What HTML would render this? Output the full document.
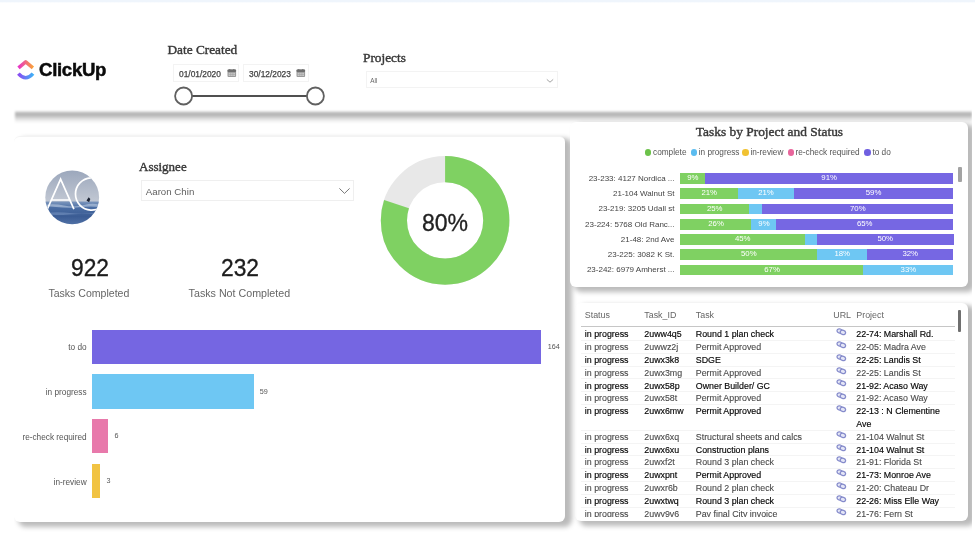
<!DOCTYPE html>
<html>
<head>
<meta charset="utf-8">
<title>ClickUp Dashboard</title>
<style>
html,body{margin:0;padding:0;}
body{width:975px;height:552px;overflow:hidden;background:#fff;position:relative;font-family:"Liberation Sans",sans-serif;color:#333;}
.abs{position:absolute;white-space:nowrap;}
.serif{font-family:"Liberation Serif",serif;color:#3a3a3a;font-size:13.3px;line-height:16px;-webkit-text-stroke:0.42px #3a3a3a;}
.panel{position:absolute;background:#fff;border-radius:6px;}
#wrap{position:absolute;left:-20px;top:-20px;width:1015px;height:592px;background:#fff;filter:blur(0.55px);}
#wrap>#inner{position:absolute;left:20px;top:20px;width:975px;height:552px;}
#topstrip{position:absolute;left:-20px;top:-20px;width:1015px;height:23px;background:linear-gradient(to bottom,#eff5fc 0,#eff5fc 21.5px,#fff 23px);}
#hdrshadow{position:absolute;left:15px;top:110.6px;width:957px;height:12.6px;filter:blur(0.9px);background:linear-gradient(to bottom,rgba(0,0,0,0.06) 0%,rgba(0,0,0,0.30) 18%,rgba(0,0,0,0.27) 38%,rgba(0,0,0,0.10) 70%,rgba(0,0,0,0) 100%);}
#leftp{left:14px;top:136px;width:550.5px;height:385.5px;box-shadow:5.5px 3.5px 5px 1.5px rgba(0,0,0,0.27);border-top:1px solid #f3f3f3;box-sizing:border-box;clip-path:inset(-6px -30px -30px 0);}
#chartp{left:570px;top:122px;width:397.6px;height:165px;box-shadow:5.5px 3.5px 5px 1.5px rgba(0,0,0,0.27);}
#tablep{left:574.5px;top:302.8px;width:393px;height:218.4px;box-shadow:5.5px 3.5px 5px 1.5px rgba(0,0,0,0.27);overflow:hidden;}
.inp{position:absolute;border:1px solid #f3f3f3;box-sizing:border-box;background:#fff;}
.bar{position:absolute;}
.blab{position:absolute;font-size:8.25px;line-height:10px;margin-top:1.2px;color:#555;white-space:nowrap;text-align:right;}
.bval{position:absolute;font-size:7.2px;line-height:10px;margin-top:0.6px;color:#555;white-space:nowrap;}
.dot{margin-top:0.5px;position:absolute;width:6.6px;height:6.6px;border-radius:50%;}
.leg{position:absolute;font-size:8.25px;line-height:10px;margin-top:0.8px;color:#555;white-space:nowrap;}
.clab{position:absolute;font-size:8px;line-height:10px;color:#444;white-space:nowrap;text-align:right;margin-top:0.5px;}
.seg{position:absolute;height:10.8px;font-size:7.8px;line-height:10.8px;color:#fff;text-align:center;white-space:nowrap;overflow:hidden;}
#tclip{position:absolute;left:0;top:0;width:975px;height:516.8px;overflow:hidden;}
.th{position:absolute;font-size:8.9px;line-height:12px;margin-top:-0.9px;color:#666;white-space:nowrap;}
.tr{position:absolute;left:0;width:975px;height:12.82px;font-size:8.85px;line-height:12.82px;white-space:nowrap;margin-top:0.8px;}
.tr span{position:absolute;top:0;}
.tr.o{color:#050505;-webkit-text-stroke:0.15px #050505;}
.tr.e{color:#484848;-webkit-text-stroke:0.1px #484848;}
</style>
</head>
<body>
<div id="wrap"><div id="inner">
<div id="topstrip"></div>
<div id="hdrshadow"></div>

<!-- HEADER -->
<svg class="abs" style="left:15px;top:57px" width="24" height="26" viewBox="0 0 24 26">
  <defs>
    <linearGradient id="g1" x1="0" y1="0" x2="1" y2="0"><stop offset="0" stop-color="#e834c8"/><stop offset="1" stop-color="#f9a13a"/></linearGradient>
    <linearGradient id="g2" x1="0" y1="0" x2="1" y2="0"><stop offset="0" stop-color="#8a4cf2"/><stop offset="1" stop-color="#3fb0f6"/></linearGradient>
  </defs>
  <path d="M3.5 10.8 L10.7 4.9 L17.9 10.8" fill="none" stroke="url(#g1)" stroke-width="3.6" stroke-linejoin="round"/>
  <path d="M3.4 16.6 Q10.7 24.8 18 16.6" fill="none" stroke="url(#g2)" stroke-width="3.6"/>
</svg>
<div class="abs" id="logotxt" style="left:39px;top:59px;font-size:18.6px;line-height:22px;font-weight:bold;color:#0b0b0b;letter-spacing:-0.3px;-webkit-text-stroke:0.5px #0b0b0b;">ClickUp</div>

<div class="abs serif" id="t_date" style="left:167.5px;top:42px;">Date Created</div>
<div class="inp" style="left:173px;top:63.5px;width:66px;height:18.5px;"></div>
<div class="inp" style="left:242.5px;top:63.5px;width:66px;height:18.5px;"></div>
<div class="abs" id="d1" style="left:179px;top:68.6px;font-size:8.4px;line-height:11px;color:#444;-webkit-text-stroke:0.25px #444;">01/01/2020</div>
<div class="abs" id="d2" style="left:249px;top:68.6px;font-size:8.4px;line-height:11px;color:#444;-webkit-text-stroke:0.25px #444;">30/12/2023</div>
<svg class="abs" style="left:226.5px;top:68.5px" width="10" height="9" viewBox="0 0 10 9"><rect x="0.5" y="0.6" width="8.6" height="7.4" rx="1" fill="#9a9a9a"/><rect x="0.5" y="0.6" width="8.6" height="2.4" rx="1" fill="#6e6e6e"/><path d="M2.8 0v1.6M6.8 0v1.6" stroke="#6e6e6e" stroke-width="1"/><rect x="1.6" y="3.8" width="6.4" height="3.2" fill="#c9c9c9"/><path d="M1.6 5.4h6.4M3.7 3.8v3.2M5.9 3.8v3.2" stroke="#9a9a9a" stroke-width="0.5"/></svg>
<svg class="abs" style="left:296.3px;top:68.5px" width="10" height="9" viewBox="0 0 10 9"><rect x="0.5" y="0.6" width="8.6" height="7.4" rx="1" fill="#9a9a9a"/><rect x="0.5" y="0.6" width="8.6" height="2.4" rx="1" fill="#6e6e6e"/><path d="M2.8 0v1.6M6.8 0v1.6" stroke="#6e6e6e" stroke-width="1"/><rect x="1.6" y="3.8" width="6.4" height="3.2" fill="#c9c9c9"/><path d="M1.6 5.4h6.4M3.7 3.8v3.2M5.9 3.8v3.2" stroke="#9a9a9a" stroke-width="0.5"/></svg>
<svg class="abs" style="left:170px;top:84px" width="160" height="24" viewBox="0 0 160 24">
  <line x1="22" y1="12" x2="137" y2="12" stroke="#505050" stroke-width="2"/>
  <circle cx="13.6" cy="12" r="8.5" fill="#fff" stroke="#606060" stroke-width="1.8"/>
  <circle cx="145.4" cy="12" r="8.5" fill="#fff" stroke="#606060" stroke-width="1.8"/>
</svg>

<div class="abs serif" id="t_proj" style="left:363px;top:49.6px;">Projects</div>
<div class="inp" style="left:366px;top:71px;width:191.5px;height:16.5px;"></div>
<div class="abs" id="t_all" style="left:370.3px;top:77px;font-size:6.3px;line-height:8px;color:#666;">All</div>
<svg class="abs" style="left:545px;top:77px" width="10" height="8" viewBox="0 0 10 8"><path d="M1.8 2.4 L5 5.2 L8.2 2.4" fill="none" stroke="#999" stroke-width="0.9"/></svg>

<!-- LEFT PANEL -->
<div class="panel" id="tablep"></div>
<div class="panel" id="leftp"></div>

<!-- avatar -->
<svg class="abs" style="left:44px;top:169px" width="57" height="57" viewBox="0 0 57 57">
  <defs>
    <clipPath id="avc"><circle cx="28.2" cy="28.4" r="26.9"/></clipPath>
    <linearGradient id="sky" x1="0" y1="0" x2="0" y2="1"><stop offset="0" stop-color="#9aa6bb"/><stop offset="1" stop-color="#c3c9d4"/></linearGradient>
    <linearGradient id="sea" x1="0" y1="0" x2="0" y2="1"><stop offset="0" stop-color="#7d97bd"/><stop offset="0.25" stop-color="#4a6da3"/><stop offset="0.6" stop-color="#3b5c94"/><stop offset="1" stop-color="#5576aa"/></linearGradient>
  </defs>
  <g clip-path="url(#avc)">
    <rect x="0" y="0" width="57" height="34" fill="url(#sky)"/>
    <rect x="0" y="32.5" width="57" height="25" fill="url(#sea)"/>
    <path d="M0 36 Q10 34.5 20 36.5 T40 36 T57 36.5 V38 Q45 37 35 38.2 T12 38 T0 38Z" fill="#c4d3e8" opacity="0.55"/>
    <path d="M0 44 Q14 42.5 26 44 T57 43.5 V45 Q40 44.4 26 45.4 T0 45.4Z" fill="#7f9cc8" opacity="0.5"/>
    <path d="M42.5 31.5 l2.2 -3.2 l1.6 1.6 l-1.2 3.4z" fill="#1d2434"/>
    <path d="M3.3 40.2 L16.6 10.1 L29.9 40.2 M7.6 31 H25.6" fill="none" stroke="#fff" stroke-width="1.7"/>
    <path d="M58 12.5 A16.2 16.2 0 1 0 58 37.5" fill="none" stroke="#fff" stroke-width="1.7"/>
  </g>
</svg>

<div class="abs serif" id="t_asg" style="left:139px;top:158.5px;font-size:13px;">Assignee</div>
<div class="inp" style="left:141px;top:180px;width:213px;height:20.5px;border-color:#efefef;"></div>
<div class="abs" id="t_aaron" style="left:145.8px;top:186px;font-size:9.7px;line-height:12px;color:#606060;">Aaron Chin</div>
<svg class="abs" style="left:338px;top:186px" width="13" height="10" viewBox="0 0 13 10"><path d="M1.4 2.4 L6.5 7.4 L11.6 2.4" fill="none" stroke="#777" stroke-width="1"/></svg>

<div class="abs" id="n922" style="left:49.5px;top:254.2px;width:80px;text-align:center;font-size:24.5px;line-height:28px;color:#1c1c1c;transform:scaleX(0.93);-webkit-text-stroke:0.35px #1c1c1c;">922</div>
<div class="abs" id="n232" style="left:199.5px;top:254.2px;width:80px;text-align:center;font-size:24.5px;line-height:28px;color:#1c1c1c;transform:scaleX(0.93);-webkit-text-stroke:0.35px #1c1c1c;">232</div>
<div class="abs" id="tc" style="left:28.9px;top:286.6px;width:120px;text-align:center;font-size:10.55px;line-height:13px;color:#666;">Tasks Completed</div>
<div class="abs" id="tnc" style="left:179.4px;top:286.6px;width:120px;text-align:center;font-size:10.7px;line-height:13px;color:#666;">Tasks Not Completed</div>

<!-- donut -->
<svg class="abs" style="left:375px;top:150px" width="140" height="140" viewBox="0 0 140 140">
  <circle cx="70.1" cy="70.4" r="51.2" fill="none" stroke="#e8e8e8" stroke-width="26.2"/>
  <circle cx="70.1" cy="70.4" r="51.2" fill="none" stroke="#7fd162" stroke-width="26.2" stroke-dasharray="257.36 64.34" transform="rotate(-90 70.1 70.4)"/>
</svg>
<div class="abs" id="p80" style="left:404.5px;top:209px;width:80px;text-align:center;font-size:24px;line-height:28px;color:#222;transform:scaleX(0.96);-webkit-text-stroke:0.3px #222;">80%</div>

<!-- bars -->
<div class="bar" style="left:91.8px;top:329.6px;width:449.5px;height:34.2px;background:#7566e2;"></div>
<div class="bar" style="left:91.8px;top:374.4px;width:161.8px;height:34.3px;background:#6ec7f3;"></div>
<div class="bar" style="left:91.8px;top:419.2px;width:16.6px;height:34.3px;background:#e879ab;"></div>
<div class="bar" style="left:91.8px;top:464px;width:8.5px;height:34.3px;background:#f1c343;"></div>
<div class="blab" style="left:6.6px;width:80px;top:342px;">to do</div>
<div class="blab" style="left:6.6px;width:80px;top:386.8px;">in progress</div>
<div class="blab" style="left:6.6px;width:80px;top:431.6px;">re-check required</div>
<div class="blab" style="left:6.6px;width:80px;top:476.4px;">in-review</div>
<div class="bval" style="left:547.8px;top:341.3px;">164</div>
<div class="bval" style="left:259.8px;top:386.1px;">59</div>
<div class="bval" style="left:114.6px;top:430.9px;">6</div>
<div class="bval" style="left:106.4px;top:475.7px;">3</div>

<!-- CHART PANEL -->
<div class="panel" id="chartp"></div>
<div class="abs serif" id="t_title" style="left:695.8px;top:123.8px;font-size:13.42px;">Tasks by Project and Status</div>
<div class="dot" style="left:644.5px;top:148.9px;background:#6cc24a;"></div><div class="leg" style="left:653px;top:147px;">complete</div>
<div class="dot" style="left:690.7px;top:148.9px;background:#5bbcf0;"></div><div class="leg" style="left:698.7px;top:147px;">in progress</div>
<div class="dot" style="left:742.4px;top:148.9px;background:#f1c232;"></div><div class="leg" style="left:750.4px;top:147px;">in-review</div>
<div class="dot" style="left:787.7px;top:148.9px;background:#e8669c;"></div><div class="leg" style="left:795.5px;top:147px;">re-check required</div>
<div class="dot" style="left:864.0px;top:148.9px;background:#6f5fe0;"></div><div class="leg" style="left:872.4px;top:147px;">to do</div>
<div class="clab" style="left:574.5px;width:100px;top:173.40px;">23-233: 4127 Nordica ...</div>
<div class="seg" style="left:680.2px;top:173.00px;width:25.3px;background:#7fd162;">9%</div>
<div class="seg" style="left:704.8px;top:173.00px;width:248.7px;background:#7667e3;">91%</div>
<div class="clab" style="left:574.5px;width:100px;top:188.65px;">21-104 Walnut St</div>
<div class="seg" style="left:680.2px;top:188.25px;width:58.1px;background:#7fd162;">21%</div>
<div class="seg" style="left:737.6px;top:188.25px;width:56.7px;background:#6ec7f3;">21%</div>
<div class="seg" style="left:793.6px;top:188.25px;width:159.9px;background:#7667e3;">59%</div>
<div class="clab" style="left:574.5px;width:100px;top:203.90px;">23-219: 3205 Udall st</div>
<div class="seg" style="left:680.2px;top:203.50px;width:69.0px;background:#7fd162;">25%</div>
<div class="seg" style="left:748.5px;top:203.50px;width:14.4px;background:#6ec7f3;"></div>
<div class="seg" style="left:762.2px;top:203.50px;width:191.3px;background:#7667e3;">70%</div>
<div class="clab" style="left:574.5px;width:100px;top:219.15px;">23-224: 5768 Old Ranc...</div>
<div class="seg" style="left:680.2px;top:218.75px;width:71.8px;background:#7fd162;">26%</div>
<div class="seg" style="left:751.3px;top:218.75px;width:25.3px;background:#6ec7f3;">9%</div>
<div class="seg" style="left:775.9px;top:218.75px;width:177.6px;background:#7667e3;">65%</div>
<div class="clab" style="left:574.5px;width:100px;top:234.40px;">21-48: 2nd Ave</div>
<div class="seg" style="left:680.2px;top:234.00px;width:125.1px;background:#7fd162;">45%</div>
<div class="seg" style="left:804.6px;top:234.00px;width:13.0px;background:#6ec7f3;"></div>
<div class="seg" style="left:816.9px;top:234.00px;width:136.7px;background:#7667e3;">50%</div>
<div class="clab" style="left:574.5px;width:100px;top:249.65px;">23-225: 3082 K St.</div>
<div class="seg" style="left:680.2px;top:249.25px;width:137.3px;background:#7fd162;">50%</div>
<div class="seg" style="left:816.9px;top:249.25px;width:50.7px;background:#6ec7f3;">18%</div>
<div class="seg" style="left:866.9px;top:249.25px;width:86.6px;background:#7667e3;">32%</div>
<div class="clab" style="left:574.5px;width:100px;top:264.90px;">23-242: 6979 Amherst ...</div>
<div class="seg" style="left:680.2px;top:264.50px;width:183.8px;background:#7fd162;">67%</div>
<div class="seg" style="left:863.3px;top:264.50px;width:90.2px;background:#6ec7f3;">33%</div>
<div class="abs" style="left:958.3px;top:167px;width:4.2px;height:15.3px;background:#a3a3a3;border-radius:1px;"></div>
<!-- TABLE PANEL -->
<div id="tclip">
<div class="th" style="left:584.8px;top:309.5px;">Status</div><div class="th" style="left:644.3px;top:309.5px;">Task_ID</div><div class="th" style="left:695.8px;top:309.5px;">Task</div><div class="th" style="left:833.3px;top:309.5px;">URL</div><div class="th" style="left:856.3px;top:309.5px;">Project</div>
<div class="abs" style="left:581px;top:326.2px;width:374px;height:1.2px;background:#c6c6c6;"></div>
<div class="tr o" style="top:327.49px;"><span style="left:584.8px">in progress</span><span style="left:644.3px">2uww4q5</span><span style="left:695.8px">Round 1 plan check</span><span style="left:836px;top:-1.1px"><svg width="11" height="8" viewBox="0 0 11 8"><g fill="#e4e6f6" stroke="#858bcb" stroke-width="1.25"><ellipse cx="3.7" cy="3" rx="2.7" ry="2.1" transform="rotate(18 3.7 3)"/><ellipse cx="6.9" cy="4.4" rx="2.7" ry="2.1" transform="rotate(18 6.9 4.4)"/></g></svg></span><span style="left:856.3px">22-74: Marshall Rd.</span></div>
<div class="abs" style="left:581px;top:340.01px;width:374px;height:1px;background:#f4f4f4;"></div>
<div class="tr e" style="top:340.31px;"><span style="left:584.8px">in progress</span><span style="left:644.3px">2uwwz2j</span><span style="left:695.8px">Permit Approved</span><span style="left:836px;top:-1.1px"><svg width="11" height="8" viewBox="0 0 11 8"><g fill="#e4e6f6" stroke="#858bcb" stroke-width="1.25"><ellipse cx="3.7" cy="3" rx="2.7" ry="2.1" transform="rotate(18 3.7 3)"/><ellipse cx="6.9" cy="4.4" rx="2.7" ry="2.1" transform="rotate(18 6.9 4.4)"/></g></svg></span><span style="left:856.3px">22-05: Madra Ave</span></div>
<div class="abs" style="left:581px;top:352.83px;width:374px;height:1px;background:#f4f4f4;"></div>
<div class="tr o" style="top:353.13px;"><span style="left:584.8px">in progress</span><span style="left:644.3px">2uwx3k8</span><span style="left:695.8px">SDGE</span><span style="left:836px;top:-1.1px"><svg width="11" height="8" viewBox="0 0 11 8"><g fill="#e4e6f6" stroke="#858bcb" stroke-width="1.25"><ellipse cx="3.7" cy="3" rx="2.7" ry="2.1" transform="rotate(18 3.7 3)"/><ellipse cx="6.9" cy="4.4" rx="2.7" ry="2.1" transform="rotate(18 6.9 4.4)"/></g></svg></span><span style="left:856.3px">22-25: Landis St</span></div>
<div class="abs" style="left:581px;top:365.65px;width:374px;height:1px;background:#f4f4f4;"></div>
<div class="tr e" style="top:365.95px;"><span style="left:584.8px">in progress</span><span style="left:644.3px">2uwx3mg</span><span style="left:695.8px">Permit Approved</span><span style="left:836px;top:-1.1px"><svg width="11" height="8" viewBox="0 0 11 8"><g fill="#e4e6f6" stroke="#858bcb" stroke-width="1.25"><ellipse cx="3.7" cy="3" rx="2.7" ry="2.1" transform="rotate(18 3.7 3)"/><ellipse cx="6.9" cy="4.4" rx="2.7" ry="2.1" transform="rotate(18 6.9 4.4)"/></g></svg></span><span style="left:856.3px">22-25: Landis St</span></div>
<div class="abs" style="left:581px;top:378.47px;width:374px;height:1px;background:#f4f4f4;"></div>
<div class="tr o" style="top:378.77px;"><span style="left:584.8px">in progress</span><span style="left:644.3px">2uwx58p</span><span style="left:695.8px">Owner Builder/ GC</span><span style="left:836px;top:-1.1px"><svg width="11" height="8" viewBox="0 0 11 8"><g fill="#e4e6f6" stroke="#858bcb" stroke-width="1.25"><ellipse cx="3.7" cy="3" rx="2.7" ry="2.1" transform="rotate(18 3.7 3)"/><ellipse cx="6.9" cy="4.4" rx="2.7" ry="2.1" transform="rotate(18 6.9 4.4)"/></g></svg></span><span style="left:856.3px">21-92: Acaso Way</span></div>
<div class="abs" style="left:581px;top:391.29px;width:374px;height:1px;background:#f4f4f4;"></div>
<div class="tr e" style="top:391.59px;"><span style="left:584.8px">in progress</span><span style="left:644.3px">2uwx58t</span><span style="left:695.8px">Permit Approved</span><span style="left:836px;top:-1.1px"><svg width="11" height="8" viewBox="0 0 11 8"><g fill="#e4e6f6" stroke="#858bcb" stroke-width="1.25"><ellipse cx="3.7" cy="3" rx="2.7" ry="2.1" transform="rotate(18 3.7 3)"/><ellipse cx="6.9" cy="4.4" rx="2.7" ry="2.1" transform="rotate(18 6.9 4.4)"/></g></svg></span><span style="left:856.3px">21-92: Acaso Way</span></div>
<div class="abs" style="left:581px;top:404.11px;width:374px;height:1px;background:#f4f4f4;"></div>
<div class="tr o" style="top:404.41px;"><span style="left:584.8px">in progress</span><span style="left:644.3px">2uwx6mw</span><span style="left:695.8px">Permit Approved</span><span style="left:836px;top:-1.1px"><svg width="11" height="8" viewBox="0 0 11 8"><g fill="#e4e6f6" stroke="#858bcb" stroke-width="1.25"><ellipse cx="3.7" cy="3" rx="2.7" ry="2.1" transform="rotate(18 3.7 3)"/><ellipse cx="6.9" cy="4.4" rx="2.7" ry="2.1" transform="rotate(18 6.9 4.4)"/></g></svg></span><span style="left:856.3px">22-13 : N Clementine<br>Ave</span></div>
<div class="abs" style="left:581px;top:429.75px;width:374px;height:1px;background:#f4f4f4;"></div>
<div class="tr e" style="top:430.05px;"><span style="left:584.8px">in progress</span><span style="left:644.3px">2uwx6xq</span><span style="left:695.8px">Structural sheets and calcs</span><span style="left:836px;top:-1.1px"><svg width="11" height="8" viewBox="0 0 11 8"><g fill="#e4e6f6" stroke="#858bcb" stroke-width="1.25"><ellipse cx="3.7" cy="3" rx="2.7" ry="2.1" transform="rotate(18 3.7 3)"/><ellipse cx="6.9" cy="4.4" rx="2.7" ry="2.1" transform="rotate(18 6.9 4.4)"/></g></svg></span><span style="left:856.3px">21-104 Walnut St</span></div>
<div class="abs" style="left:581px;top:442.57px;width:374px;height:1px;background:#f4f4f4;"></div>
<div class="tr o" style="top:442.87px;"><span style="left:584.8px">in progress</span><span style="left:644.3px">2uwx6xu</span><span style="left:695.8px">Construction plans</span><span style="left:836px;top:-1.1px"><svg width="11" height="8" viewBox="0 0 11 8"><g fill="#e4e6f6" stroke="#858bcb" stroke-width="1.25"><ellipse cx="3.7" cy="3" rx="2.7" ry="2.1" transform="rotate(18 3.7 3)"/><ellipse cx="6.9" cy="4.4" rx="2.7" ry="2.1" transform="rotate(18 6.9 4.4)"/></g></svg></span><span style="left:856.3px">21-104 Walnut St</span></div>
<div class="abs" style="left:581px;top:455.39px;width:374px;height:1px;background:#f4f4f4;"></div>
<div class="tr e" style="top:455.69px;"><span style="left:584.8px">in progress</span><span style="left:644.3px">2uwxf2t</span><span style="left:695.8px">Round 3 plan check</span><span style="left:836px;top:-1.1px"><svg width="11" height="8" viewBox="0 0 11 8"><g fill="#e4e6f6" stroke="#858bcb" stroke-width="1.25"><ellipse cx="3.7" cy="3" rx="2.7" ry="2.1" transform="rotate(18 3.7 3)"/><ellipse cx="6.9" cy="4.4" rx="2.7" ry="2.1" transform="rotate(18 6.9 4.4)"/></g></svg></span><span style="left:856.3px">21-91: Florida St</span></div>
<div class="abs" style="left:581px;top:468.21px;width:374px;height:1px;background:#f4f4f4;"></div>
<div class="tr o" style="top:468.51px;"><span style="left:584.8px">in progress</span><span style="left:644.3px">2uwxpnt</span><span style="left:695.8px">Permit Approved</span><span style="left:836px;top:-1.1px"><svg width="11" height="8" viewBox="0 0 11 8"><g fill="#e4e6f6" stroke="#858bcb" stroke-width="1.25"><ellipse cx="3.7" cy="3" rx="2.7" ry="2.1" transform="rotate(18 3.7 3)"/><ellipse cx="6.9" cy="4.4" rx="2.7" ry="2.1" transform="rotate(18 6.9 4.4)"/></g></svg></span><span style="left:856.3px">21-73: Monroe Ave</span></div>
<div class="abs" style="left:581px;top:481.03px;width:374px;height:1px;background:#f4f4f4;"></div>
<div class="tr e" style="top:481.33px;"><span style="left:584.8px">in progress</span><span style="left:644.3px">2uwxr6b</span><span style="left:695.8px">Round 2 plan check</span><span style="left:836px;top:-1.1px"><svg width="11" height="8" viewBox="0 0 11 8"><g fill="#e4e6f6" stroke="#858bcb" stroke-width="1.25"><ellipse cx="3.7" cy="3" rx="2.7" ry="2.1" transform="rotate(18 3.7 3)"/><ellipse cx="6.9" cy="4.4" rx="2.7" ry="2.1" transform="rotate(18 6.9 4.4)"/></g></svg></span><span style="left:856.3px">21-20: Chateau Dr</span></div>
<div class="abs" style="left:581px;top:493.85px;width:374px;height:1px;background:#f4f4f4;"></div>
<div class="tr o" style="top:494.15px;"><span style="left:584.8px">in progress</span><span style="left:644.3px">2uwxtwq</span><span style="left:695.8px">Round 3 plan check</span><span style="left:836px;top:-1.1px"><svg width="11" height="8" viewBox="0 0 11 8"><g fill="#e4e6f6" stroke="#858bcb" stroke-width="1.25"><ellipse cx="3.7" cy="3" rx="2.7" ry="2.1" transform="rotate(18 3.7 3)"/><ellipse cx="6.9" cy="4.4" rx="2.7" ry="2.1" transform="rotate(18 6.9 4.4)"/></g></svg></span><span style="left:856.3px">22-26: Miss Elle Way</span></div>
<div class="abs" style="left:581px;top:506.67px;width:374px;height:1px;background:#f4f4f4;"></div>
<div class="tr e" style="top:506.97px;"><span style="left:584.8px">in progress</span><span style="left:644.3px">2uwy9v6</span><span style="left:695.8px">Pay final City invoice</span><span style="left:836px;top:-1.1px"><svg width="11" height="8" viewBox="0 0 11 8"><g fill="#e4e6f6" stroke="#858bcb" stroke-width="1.25"><ellipse cx="3.7" cy="3" rx="2.7" ry="2.1" transform="rotate(18 3.7 3)"/><ellipse cx="6.9" cy="4.4" rx="2.7" ry="2.1" transform="rotate(18 6.9 4.4)"/></g></svg></span><span style="left:856.3px">21-76: Fern St</span></div>
<div class="abs" style="left:581px;top:519.49px;width:374px;height:1px;background:#f4f4f4;"></div>
<div class="abs" style="left:958px;top:309.5px;width:3.2px;height:22px;background:#6f6f6f;border-radius:1px;"></div>
</div>

<div class="abs" style="left:972.4px;top:3px;width:3px;height:549px;background:#fff;"></div>
</div></div>
</body>
</html>
